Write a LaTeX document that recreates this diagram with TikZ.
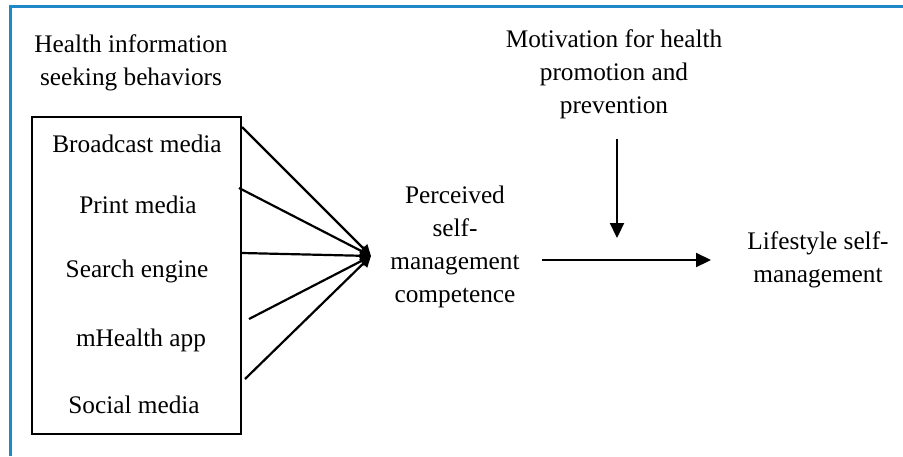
\documentclass[tikz,border=0pt]{standalone}
\usepackage{fontspec}
\setmainfont{Liberation Serif}
\usetikzlibrary{arrows.meta}
\begin{document}
\begin{tikzpicture}[x=1pt,y=-1pt,
  lbl/.style={inner sep=0pt, font=\fontsize{25.3}{33}\selectfont, align=center},
  arr/.style={line width=2.2pt, -{Triangle[length=15pt,width=14pt]}},
  convarr/.style={line width=2.2pt, -{Triangle[length=11pt,width=11pt]}}]
\useasboundingbox (0,0) rectangle (903,456);
\fill[white] (0,0) rectangle (903,456);
\draw[color={rgb,255:red,30;green,136;blue,200}, line width=2.5pt] (10.5,456) -- (10.5,6.5) -- (903,6.5);
% left group
\node[lbl] (hisb) at (131,63) {Health information\\seeking behaviors};
\node[draw, line width=1.2pt, minimum width=209pt, minimum height=317pt, inner sep=0pt] (box) at (136.5,275.5) {};
\node[lbl] (bm) at (137,144) {Broadcast media};
\node[lbl] (pm) at (138,205) {Print media};
\node[lbl] (se) at (137,271) {Search engine};
\node[lbl] (mh) at (141,340) {mHealth app};
\node[lbl] (sm) at (134,405) {Social media};
% centre
\node[lbl] (psm) at (455,247) {Perceived\\self-\\management\\competence};
\node[lbl] (mot) at (614,74) {Motivation for health\\promotion and\\prevention};
\node[lbl] (ls) at (818,260) {Lifestyle self-\\management};
% connectors
\coordinate (s1) at (242,127);
\coordinate (s2) at (239,188);
\coordinate (s3) at (242,253);
\coordinate (s4) at (249,319);
\coordinate (s5) at (245,379);
\coordinate (tip) at (371,256);
\draw[convarr] (s1) -- (tip);
\draw[convarr] (s2) -- (tip);
\draw[convarr] (s4) -- (tip);
\draw[convarr] (s5) -- (tip);
\draw[convarr] (s3) -- (tip);
\coordinate (d1) at (617,139);
\coordinate (d2) at (617,238);
\draw[arr] (d1) -- (d2);
\coordinate (h1) at (542,260);
\coordinate (h2) at (711,260);
\draw[arr] (h1) -- (h2);
\end{tikzpicture}
\end{document}
